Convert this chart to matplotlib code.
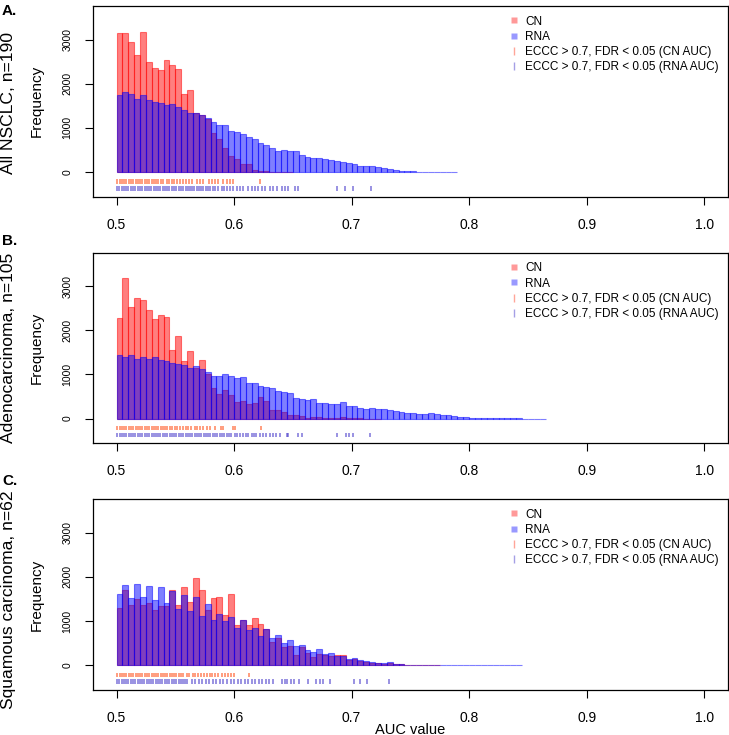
import numpy as np
import matplotlib
matplotlib.use("Agg")
import matplotlib.pyplot as plt
from matplotlib.lines import Line2D

plt.rcParams['font.family'] = ['Liberation Sans', 'DejaVu Sans']

# ---------------- data ----------------
BIN_START = 0.5
BIN_WIDTH = 0.005

panel_tags = ["A.", "B.", "C."]
panel_titles = ["All NSCLC, n=190", "Adenocarcinoma, n=105", "Squamous carcinoma, n=62"]

x_ticks = [0.5, 0.6, 0.7, 0.8, 0.9, 1.0]
x_tick_labels = ["0.5", "0.6", "0.7", "0.8", "0.9", "1.0"]
y_ticks = [0, 1000, 2000, 3000]
y_tick_labels = ["0", "1000", "2000", "3000"]

legend_labels = ["CN", "RNA", "ECCC > 0.7, FDR < 0.05 (CN AUC)", "ECCC > 0.7, FDR < 0.05 (RNA AUC)"]

# histogram counts per 0.005-wide bin starting at 0.5
cn_A = [3140, 3140, 2950, 2660, 3180, 2500, 2360, 2310, 2540, 2430,
        2340, 1770, 1860, 1340, 1300, 1190, 890, 750, 550, 360,
        290, 190, 170, 40, 25, 20, 8, 5, 3, 2]
rna_A = [1733, 1816, 1756, 1643, 1748, 1620, 1582, 1567, 1522, 1545,
         1477, 1394, 1341, 1326, 1296, 1228, 1138, 1055, 1055, 934,
         912, 867, 784, 754, 650, 600, 540, 475, 505, 480,
         470, 380, 330, 320, 310, 300, 271, 249, 226, 211,
         181, 143, 136, 136, 105, 90, 60, 45, 30, 30,
         15, 8, 5, 4, 3, 3, 2, 2]

cn_B = [2290, 3176, 2530, 2733, 2688, 2455, 2260, 2357, 2305, 1562,
        1877, 1314, 1539, 1150, 1336, 1020, 683, 548, 638, 525,
        368, 398, 338, 360, 488, 405, 195, 195, 158, 75,
        75, 53, 22, 38, 38, 15, 12, 10, 40, 10,
        5, 3, 2, 2, 1]
rna_B = [1449, 1389, 1449, 1359, 1389, 1351, 1389, 1336, 1314, 1269,
         1239, 1216, 1156, 1186, 1134, 1051, 961, 968, 1021, 976,
         916, 938, 803, 796, 736, 713, 698, 623, 600, 571,
         458, 435, 420, 443, 360, 345, 340, 338, 368, 293,
         293, 240, 210, 240, 225, 210, 188, 180, 158, 120,
         120, 105, 105, 135, 105, 75, 75, 60, 45, 45,
         23, 15, 12, 8, 6, 5, 4, 3, 3, 2,
         2, 1, 1]

cn_C = [1304, 1696, 1356, 1492, 1356, 1417, 1251, 1341, 1341, 1703,
        1356, 1778, 1432, 1967, 1696, 1243, 1530, 1552, 1138, 1605,
        919, 1017, 919, 1070, 942, 814, 535, 625, 414, 437,
        226, 422, 286, 188, 264, 234, 211, 230, 226, 120,
        130, 100, 80, 50, 40, 30, 40, 25, 20, 15,
        10, 5, 3, 2, 1]
rna_C = [1605, 1809, 1522, 1846, 1552, 1786, 1470, 1771, 1417, 1680,
         1266, 1582, 1228, 1552, 1108, 1394, 1017, 1153, 1002, 1100,
         836, 1017, 799, 851, 663, 814, 618, 678, 512, 565,
         437, 460, 339, 301, 362, 249, 270, 220, 215, 145,
         165, 120, 105, 75, 60, 45, 68, 38, 30, 15,
         15, 10, 8, 6, 5, 4, 4, 3, 3, 3,
         2, 2, 2, 2, 1, 1, 1, 1, 1]

# rug positions (AUC of genes with ECCC > 0.7, FDR < 0.05)
rug_cn_A = [0.5008, 0.5027, 0.5046, 0.5067, 0.5085, 0.5104, 0.5125, 0.5143, 0.5162, 0.5183,
            0.5201, 0.5220, 0.5241, 0.5259, 0.5278, 0.5299, 0.5317, 0.5336, 0.5357, 0.5375,
            0.5394, 0.5429, 0.5449, 0.5472, 0.5492, 0.5514, 0.5542, 0.5565, 0.5588, 0.5613,
            0.5641, 0.5684, 0.5712, 0.5732, 0.5791, 0.5811, 0.5839, 0.5867, 0.5910, 0.5938,
            0.5966, 0.5994, 0.6223]
rug_rna_A = [0.5006, 0.5025, 0.5044, 0.5065, 0.5083, 0.5102, 0.5123, 0.5141, 0.5160, 0.5181,
             0.5199, 0.5218, 0.5239, 0.5257, 0.5276, 0.5297, 0.5315, 0.5334, 0.5355, 0.5373,
             0.5392, 0.5413, 0.5431, 0.5450, 0.5471, 0.5489, 0.5508, 0.5529, 0.5547, 0.5566,
             0.5587, 0.5605, 0.5624, 0.5645, 0.5663, 0.5682, 0.5703, 0.5721, 0.5740, 0.5761,
             0.5779, 0.5798, 0.5819, 0.5840, 0.5867, 0.5895, 0.5915, 0.5938, 0.5966, 0.5994,
             0.6028, 0.6051, 0.6079, 0.6121, 0.6150, 0.6178, 0.6206, 0.6234, 0.6263, 0.6305,
             0.6333, 0.6362, 0.6404, 0.6432, 0.6461, 0.6517, 0.6545, 0.6879, 0.6940, 0.7011,
             0.7161]

rug_cn_B = [0.5008, 0.5027, 0.5046, 0.5067, 0.5085, 0.5104, 0.5125, 0.5143, 0.5162, 0.5183,
            0.5201, 0.5220, 0.5241, 0.5259, 0.5278, 0.5299, 0.5317, 0.5336, 0.5357, 0.5375,
            0.5394, 0.5415, 0.5433, 0.5452, 0.5473, 0.5496, 0.5516, 0.5539, 0.5567, 0.5590,
            0.5610, 0.5638, 0.5667, 0.5686, 0.5709, 0.5738, 0.5772, 0.5794, 0.5837, 0.5885,
            0.5908, 0.5987, 0.6004, 0.6226]
rug_rna_B = [0.5007, 0.5026, 0.5045, 0.5066, 0.5084, 0.5103, 0.5124, 0.5142, 0.5161, 0.5182,
             0.5200, 0.5219, 0.5240, 0.5258, 0.5277, 0.5298, 0.5316, 0.5335, 0.5356, 0.5374,
             0.5393, 0.5414, 0.5432, 0.5451, 0.5472, 0.5490, 0.5509, 0.5530, 0.5548, 0.5567,
             0.5588, 0.5606, 0.5625, 0.5646, 0.5664, 0.5683, 0.5704, 0.5722, 0.5741, 0.5762,
             0.5780, 0.5799, 0.5820, 0.5838, 0.5857, 0.5878, 0.5896, 0.5915, 0.5936, 0.5954,
             0.5973, 0.6007, 0.6027, 0.6050, 0.6073, 0.6100, 0.6120, 0.6149, 0.6169, 0.6191,
             0.6220, 0.6248, 0.6271, 0.6305, 0.6333, 0.6356, 0.6390, 0.6447, 0.6461, 0.6540,
             0.6574, 0.6878, 0.6952, 0.6980, 0.7014, 0.7156]

rug_cn_C = [0.5008, 0.5027, 0.5046, 0.5067, 0.5085, 0.5104, 0.5125, 0.5143, 0.5162, 0.5183,
            0.5201, 0.5220, 0.5241, 0.5259, 0.5278, 0.5299, 0.5317, 0.5336, 0.5357, 0.5375,
            0.5394, 0.5415, 0.5433, 0.5452, 0.5473, 0.5491, 0.5510, 0.5531, 0.5549, 0.5568,
            0.5596, 0.5620, 0.5648, 0.5670, 0.5695, 0.5722, 0.5745, 0.5770, 0.5795, 0.5813,
            0.5837, 0.5865, 0.5894, 0.5922, 0.5950, 0.5978, 0.6002, 0.6130]
rug_rna_C = [0.5005, 0.5024, 0.5043, 0.5064, 0.5082, 0.5101, 0.5122, 0.5140, 0.5159, 0.5180,
             0.5198, 0.5217, 0.5238, 0.5256, 0.5275, 0.5296, 0.5314, 0.5333, 0.5354, 0.5372,
             0.5391, 0.5412, 0.5430, 0.5449, 0.5470, 0.5488, 0.5507, 0.5528, 0.5546, 0.5565,
             0.5586, 0.5604, 0.5640, 0.5670, 0.5700, 0.5730, 0.5760, 0.5790, 0.5820, 0.5850,
             0.5880, 0.5910, 0.5940, 0.5970, 0.6000, 0.6030, 0.6060, 0.6090, 0.6120, 0.6150,
             0.6180, 0.6210, 0.6240, 0.6270, 0.6300, 0.6330, 0.6404, 0.6433, 0.6452, 0.6481,
             0.6509, 0.6555, 0.6631, 0.6696, 0.6730, 0.6759, 0.6816, 0.7023, 0.7071, 0.7128,
             0.7321]

# ---------------- styling ----------------
CN_COL = (1.0, 0.0, 0.0, 0.5)
RNA_COL = (0.0, 0.0, 1.0, 0.5)
RUG_CN_COL = (1.0, 0.33, 0.12, 0.62)
RUG_RNA_COL = (0.30, 0.25, 0.80, 0.62)

W, H = 729, 735
fig = plt.figure(figsize=(W / 100, H / 100), dpi=100)

ax_left = 93 / W
ax_width = (727.7 - 93) / W
ax_tops = [6, 252.7, 499]
ax_bottoms = [196.7, 443.3, 690]
tag_tops = [4, 234, 474]
title_centers = [103.5, 348, 600]

panels = [(cn_A, rna_A, rug_cn_A, rug_rna_A),
          (cn_B, rna_B, rug_cn_B, rug_rna_B),
          (cn_C, rna_C, rug_cn_C, rug_rna_C)]

for i, (cn, rna, rcn, rrna) in enumerate(panels):
    top, bot = ax_tops[i], ax_bottoms[i]
    ax = fig.add_axes([ax_left, 1 - bot / H, ax_width, (bot - top) / H])
    cn_left = BIN_START + BIN_WIDTH * np.arange(len(cn))
    rna_left = BIN_START + BIN_WIDTH * np.arange(len(rna))
    ax.bar(cn_left, cn, width=BIN_WIDTH, align='edge', facecolor=CN_COL,
           edgecolor=CN_COL, linewidth=0.8)
    ax.bar(rna_left, rna, width=BIN_WIDTH, align='edge', facecolor=RNA_COL,
           edgecolor=RNA_COL, linewidth=0.8)
    ax.vlines(rcn, -262, -165, colors=[RUG_CN_COL], linewidth=1.3)
    ax.vlines(rrna, -420, -322, colors=[RUG_RNA_COL], linewidth=1.3)

    ax.set_xlim(0.48, 1.02)
    ax.set_ylim(-560, 3760)
    ax.set_xticks(x_ticks)
    ax.set_xticklabels(x_tick_labels, fontsize=10)
    ax.set_yticks(y_ticks)
    ax.set_yticklabels(y_tick_labels, fontsize=7.5)
    for lab in ax.get_yticklabels():
        lab.set_rotation(90)
        lab.set_va('center')
    ax.tick_params(axis='x', direction='out', length=5.5, width=0.8, pad=9.5)
    ax.tick_params(axis='y', direction='out', length=5.5, width=0.8, pad=9.5)
    for sp in ax.spines.values():
        sp.set_linewidth(0.9)

    handles = [
        Line2D([], [], marker='s', ls='none', markersize=4.2,
               markerfacecolor=(1, 0, 0, 0.4), markeredgecolor='none'),
        Line2D([], [], marker='s', ls='none', markersize=4.2,
               markerfacecolor=(0, 0, 1, 0.4), markeredgecolor='none'),
        Line2D([], [], marker='|', ls='none', markersize=6,
               markeredgecolor=(1, 0.3, 0.2, 0.5), markeredgewidth=1.0),
        Line2D([], [], marker='|', ls='none', markersize=6,
               markeredgecolor=(0.3, 0.25, 0.8, 0.5), markeredgewidth=1.0),
    ]
    ax.legend(handles, legend_labels, loc='upper left',
              bbox_to_anchor=(0.6543, 0.95), frameon=False, fontsize=8.5,
              handlelength=1.0, handletextpad=0.45, labelspacing=0.28,
              borderpad=0, borderaxespad=0)

    yc = 1 - (top + bot) / 2 / H
    fig.text(37 / W, yc, "Frequency", rotation=90, ha='center', va='center', fontsize=11)
    fig.text(9 / W, 1 - title_centers[i] / H, panel_titles[i], rotation=90,
             ha='center', va='center', fontsize=12.6)
    fig.text(2 / W, 1 - tag_tops[i] / H, panel_tags[i], ha='left', va='top',
             fontsize=11, fontweight='bold')
    if i == 2:
        fig.text((93 + 727.7) / 2 / W, 1 - 729.5 / H, "AUC value",
                 ha='center', va='center', fontsize=10.5)

fig.savefig("out.png", dpi=100)
